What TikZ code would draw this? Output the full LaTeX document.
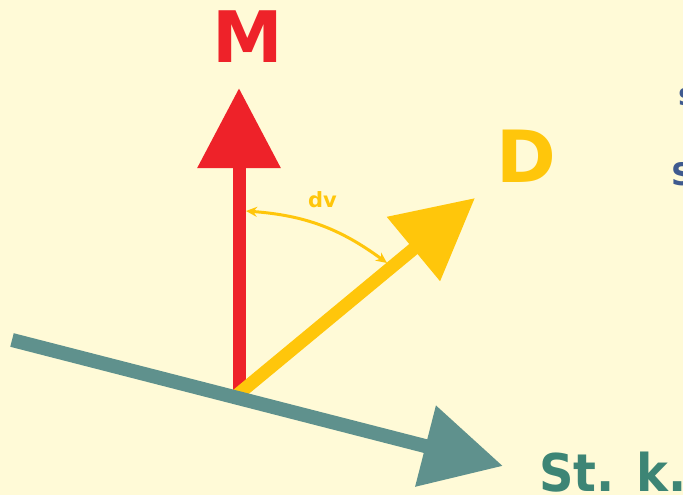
\documentclass[tikz,border=0pt]{standalone}
\usepackage{fontspec}
\usepackage{graphicx}
\setmainfont{DejaVu Sans}
\usetikzlibrary{arrows.meta}
\definecolor{bgyel}{HTML}{FFFAD7}
\definecolor{vred}{HTML}{EE2229}
\definecolor{vyel}{HTML}{FFC60B}
\definecolor{vteal}{HTML}{5F918D}
\definecolor{tteal}{HTML}{3D8575}
\definecolor{dblue}{HTML}{3F5A8F}
\tikzset{
  bigvec/.style={line width=13pt, line cap=butt, -{Triangle[length=80pt,width=80pt]}},
  lbl/.style={inner sep=0pt, font=\bfseries},
}
\begin{document}
\begin{tikzpicture}[x=1pt,y=-1pt]
\useasboundingbox (0,0) rectangle (683,495);
\clip (0,0) rectangle (683,495);
\fill[bgyel] (0,0) rectangle (683,495);
% points
\coordinate (O) at (239,395);
\coordinate (Oy) at (236,396);
\coordinate (Mtip) at (239,88);
\coordinate (Dtip) at (475,198);
\coordinate (Sstart) at (12,340);
\coordinate (Stip) at (503,466);
\coordinate (a1) at (246,211);
\coordinate (a2) at (387,263);
% vectors
\draw[bigvec, vred] (O) -- (Mtip);
\draw[bigvec, vyel] (Oy) -- (Dtip);
\draw[bigvec, vteal, line width=14pt] (Sstart) -- (Stip);
% angle
\draw[vyel, line width=3pt, {Stealth[length=11pt,width=10pt]}-{Stealth[length=11pt,width=10pt]}] (a1) to[bend left=16] (a2);
% labels
\node[lbl, text=vred, anchor=base, font=\bfseries\fontsize{71}{71}\selectfont] (M) at (248,63) {M};
\node[lbl, text=vyel, anchor=base, font=\bfseries\fontsize{72}{72}\selectfont] (D) at (526,182) {D};
\node[lbl, text=vyel, anchor=base, font=\bfseries\fontsize{21}{21}\selectfont] (dv) at (322.5,207) {dv};
\node[lbl, text=tteal, anchor=base west, font=\bfseries\fontsize{52}{52}\selectfont] (stk) at (539,491) {\scalebox{0.92}[1]{St. k.}};
\node[lbl, text=dblue, anchor=base west, font=\bfseries\fontsize{31}{31}\selectfont] (s1) at (678,105) {s};
\node[lbl, text=dblue, anchor=base west, font=\bfseries\fontsize{31}{31}\selectfont] (s2) at (671,185) {S};
\end{tikzpicture}
\end{document}
